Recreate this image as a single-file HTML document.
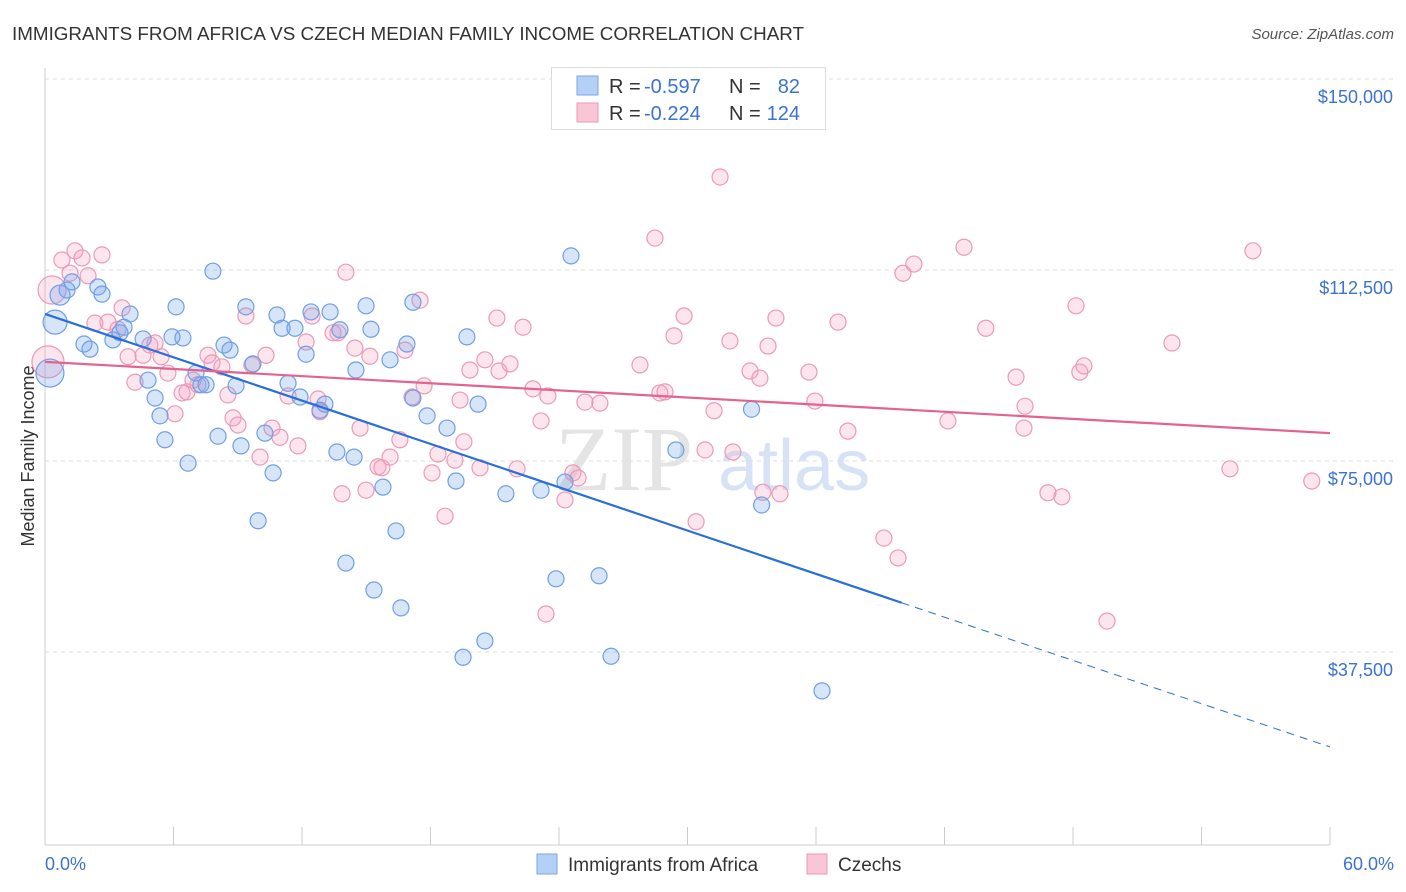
<!DOCTYPE html>
<html><head><meta charset="utf-8"><style>
body{margin:0;background:#fff;font-family:"Liberation Sans",sans-serif;}
#wrap{position:relative;width:1406px;height:892px;overflow:hidden;}
</style></head><body>
<div id="wrap">
<svg id="svg" width="1406" height="892"></svg>
</div>
<script>
const blueX=[0.47,0.70,1.03,1.26,2.47,2.66,1.82,2.10,3.17,3.50,3.69,3.97,4.58,4.81,5.14,5.37,5.60,5.93,6.12,6.44,6.68,7.05,7.28,7.52,7.84,8.08,8.36,8.64,8.92,9.15,9.38,9.71,9.95,10.27,10.65,10.83,11.07,11.67,11.35,11.91,12.19,12.42,12.84,13.07,13.31,13.63,13.77,14.43,14.52,14.99,15.22,15.78,16.11,16.39,16.62,16.90,17.18,17.18,17.84,18.77,19.19,19.52,19.70,20.22,20.54,21.52,23.16,23.86,24.28,24.56,25.87,26.43,29.46,32.99,33.46,36.28,14.05,15.36,0.23];
const blueY=[105.8,111.1,112.1,113.7,112.7,111.3,101.5,100.5,102.3,103.7,104.8,107.4,102.5,94.4,90.9,87.4,82.7,102.9,108.8,102.7,78.1,95.8,93.5,93.5,115.8,83.4,101.3,100.3,93.3,81.5,108.8,97.6,66.8,84.0,76.2,107.2,104.6,104.6,93.8,91.1,99.5,107.8,88.5,89.7,107.8,80.3,104.3,79.3,96.4,109.0,104.4,73.4,98.4,64.8,49.7,101.5,109.7,90.9,87.4,85.0,74.6,40.0,102.9,89.7,43.2,72.1,72.8,55.4,74.4,118.8,56.0,40.2,80.7,88.7,69.9,33.4,58.5,53.2,95.8];
const blueR={0:12,1:10,78:14};
const pinkX=[0.14,0.33,0.79,1.17,1.40,1.73,2.01,2.66,2.33,2.94,3.41,3.60,3.88,4.20,4.58,4.90,5.14,5.42,5.74,6.07,6.40,6.63,6.91,7.14,7.61,7.80,8.26,8.54,8.78,9.01,9.38,9.66,10.04,10.32,10.60,10.97,11.35,11.81,12.19,12.47,12.75,12.84,13.45,13.68,13.87,14.05,14.47,14.71,14.99,15.17,15.55,15.73,16.11,16.57,16.81,17.14,17.51,17.70,18.07,18.35,18.68,19.14,19.38,19.56,19.84,20.31,20.54,21.10,21.20,21.71,22.04,22.32,22.78,23.16,23.48,23.39,24.28,24.65,24.89,25.21,25.91,27.78,28.48,28.71,28.95,29.37,29.84,30.40,30.82,31.24,31.52,31.98,32.12,32.92,33.38,33.52,33.76,34.13,34.32,35.67,35.95,37.03,37.49,39.17,39.83,40.06,40.57,42.16,42.91,43.93,45.34,45.76,45.71,46.83,47.48,48.14,48.32,48.51,49.59,52.62,55.33,56.40,59.15];
const pinkY=[98.0,112.1,118.0,115.4,119.8,118.4,114.9,119.0,105.6,105.8,104.4,108.6,99.0,94.0,99.3,101.3,101.7,99.0,95.8,87.8,91.9,92.1,94.4,93.5,99.3,97.8,97.0,91.5,87.0,85.6,107.0,97.4,79.3,99.3,85.0,83.2,91.3,81.5,101.9,107.0,90.7,88.2,103.7,103.7,72.1,115.6,100.7,85.0,72.8,99.1,77.4,77.2,79.3,82.7,100.3,91.1,110.1,93.3,76.2,79.9,67.7,78.7,90.5,82.3,96.4,77.2,98.4,106.6,96.2,97.6,77.0,104.8,92.7,86.4,91.3,48.5,70.9,76.2,75.2,90.1,89.9,97.4,122.3,91.9,92.1,103.1,107.0,66.6,80.7,88.4,134.3,102.1,80.3,96.2,94.8,72.4,101.1,106.6,72.1,96.0,90.3,105.8,84.4,63.4,59.5,115.4,117.2,86.4,120.5,104.6,95.0,89.3,85.0,72.3,71.5,109.0,96.0,97.2,47.1,101.7,77.0,119.8,74.6];
const pinkR={0:16,1:14};
const yTicks=[150000,112500,75000,37500];
const yTickLabels=["$150,000","$112,500","$75,000","$37,500"];
const blueTrend=[[0,107.4],[40,50.7],[60,22.4]];
const pinkTrend=[[0,98.0],[60,84.0]];

const svg=document.getElementById('svg');const NS='http://www.w3.org/2000/svg';
const X=p=>45+p/60*1285;
const Y=k=>97+(150-k)/37.5*191;
function mk(t,a,par){const e=document.createElementNS(NS,t);for(const k in a)e.setAttribute(k,a[k]);(par||svg).appendChild(e);return e;}
function txt(s,a){const e=mk('text',a);e.textContent=s;return e;}
let t=txt("IMMIGRANTS FROM AFRICA VS CZECH MEDIAN FAMILY INCOME CORRELATION CHART",{x:12,y:40,'font-size':18,fill:'#333',textLength:792,lengthAdjust:'spacingAndGlyphs'});

t=txt("Source: ZipAtlas.com",{x:1394,y:39,'font-size':15,fill:'#555','font-style':'italic','text-anchor':'end'});

yTicks.forEach((v,i)=>{const y=Y(v/1000);
 const l=mk('line',{x1:45,y1:y-18,x2:1395,y2:y-18,stroke:'#ddd','stroke-dasharray':'4,4'});
 
 const tl=txt(yTickLabels[i],{x:1393,y:y+6,'font-size':18,fill:'#3b73d1','text-anchor':'end'});
 });
mk('line',{x1:45,y1:68,x2:45,y2:845,stroke:'#ccc'});
mk('line',{x1:45,y1:845,x2:1330,y2:845,stroke:'#ccc'});
for(let i=0;i<=10;i++){const x=X(i*6);const tk=mk('line',{x1:x,y1:827,x2:x,y2:845,stroke:'#ccc'});}
t=txt("0.0%",{x:45,y:870,'font-size':18,fill:'#3b73d1'});
t=txt("60.0%",{x:1394,y:870,'font-size':18,fill:'#3b73d1','text-anchor':'end'});
t=txt("Median Family Income",{x:34,y:456,'font-size':18,fill:'#333','text-anchor':'middle',transform:'rotate(-90 34 456)'});

t=txt("ZIP",{x:555,y:490,'font-size':92,fill:'#e4e4e4','font-family':'Liberation Serif'});
t=txt("atlas",{x:718,y:490,'font-size':72,fill:'#d7e3f5'});
function pts(xs,ys,rs,fill,stroke,name){const g=mk('g',{});
 xs.forEach((x,i)=>{const c=mk('circle',{cx:X(x),cy:Y(ys[i]),r:rs[i]||8,fill:fill,stroke:stroke,'stroke-width':1.2},g);
 });}
pts(pinkX,pinkY,pinkR,'rgba(244,160,190,0.28)','#eb9ab8','czechs-points');
pts(blueX,blueY,blueR,'rgba(110,160,235,0.28)','#6f9fe6','africa-points');
let l=mk('line',{x1:X(blueTrend[0][0]),y1:Y(blueTrend[0][1]),x2:X(blueTrend[1][0]),y2:Y(blueTrend[1][1]),stroke:'#2a6fd8','stroke-width':2.2});

l=mk('line',{x1:X(blueTrend[1][0]),y1:Y(blueTrend[1][1]),x2:X(blueTrend[2][0]),y2:Y(blueTrend[2][1]),stroke:'#2a6fd8','stroke-width':1,'stroke-dasharray':'8,6'});

l=mk('line',{x1:X(pinkTrend[0][0]),y1:Y(pinkTrend[0][1]),x2:X(pinkTrend[1][0]),y2:Y(pinkTrend[1][1]),stroke:'#e5628f','stroke-width':2.2});

const lg=mk('g',{});
mk('rect',{x:551.5,y:67.5,width:274,height:62,fill:'#fff',stroke:'#ddd'},lg);
mk('rect',{x:577,y:76,width:21,height:19,fill:'#b5d0f5',stroke:'#7aa6e8'},lg);
mk('rect',{x:577,y:103,width:21,height:19,fill:'#fac5d5',stroke:'#eb9ab8'},lg);
[["-0.597","82",93],["-0.224","124",120]].forEach(r=>{
 const a=mk('text',{x:609,y:r[2],'font-size':20,fill:'#333'},lg);a.textContent='R = ';
 const b=mk('text',{x:644,y:r[2],'font-size':20,fill:'#3b73d1'},lg);b.textContent=r[0];
 const c=mk('text',{x:729,y:r[2],'font-size':20,fill:'#333'},lg);c.textContent='N = ';
 const d=mk('text',{x:800,y:r[2],'font-size':20,fill:'#3b73d1','text-anchor':'end'},lg);d.textContent=r[1];});
const bl=mk('g',{});
let r1=mk('rect',{x:537,y:854,width:20,height:20,fill:'#b5d0f5',stroke:'#7aa6e8'},bl);
let l1=mk('text',{x:568,y:871,'font-size':19,fill:'#333'},bl);l1.textContent='Immigrants from Africa';
let r2=mk('rect',{x:807,y:854,width:20,height:20,fill:'#fac5d5',stroke:'#eb9ab8'},bl);
let l2=mk('text',{x:838,y:871,'font-size':19,fill:'#333'},bl);l2.textContent='Czechs';
</script>
</body></html>
